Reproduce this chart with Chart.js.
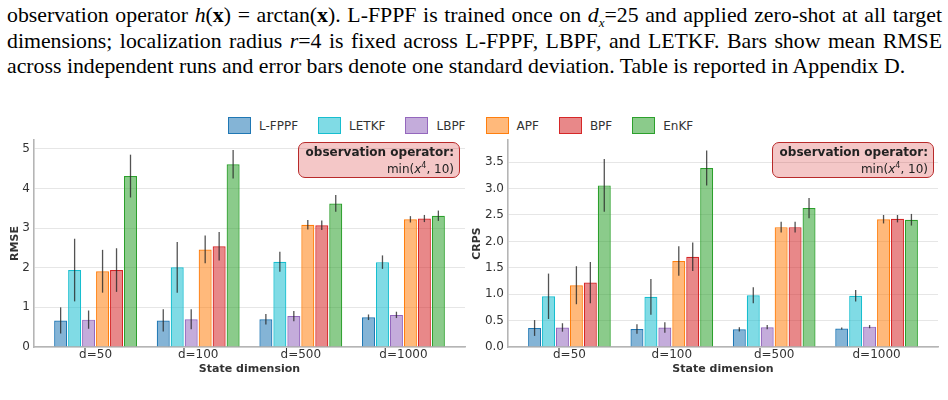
<!DOCTYPE html>
<html>
<head>
<meta charset="utf-8">
<script src="https://cdn.jsdelivr.net/npm/chart.js@4.4.1/dist/chart.umd.min.js"></script>
<style>
  body { margin: 0; width: 948px; height: 400px; background: #fff; position: relative; overflow: hidden; font-family: "DejaVu Sans", sans-serif; }
  .cap { position: absolute; left: 7px; width: 935px; font-family: "Liberation Serif", "Times New Roman", serif; font-size: 21.8px; line-height: 25.5px; color: #000; white-space: nowrap; }
  .cap.just { text-align: justify; text-align-last: justify; white-space: normal; }
  .cap b.m { font-weight: bold; font-style: normal; }
  .legend { position: absolute; left: 228px; top: 117px; display: flex; align-items: center; font-size: 12px; color: #333; }
  .legend .item { display: flex; align-items: center; margin-right: 20px; }
  .legend .box { width: 21px; height: 15px; border: 1.2px solid; margin-right: 8px; }
  .note { position: absolute; top: 142px; width: 150px; height: 30px; padding: 3px 5px 1px 5px; border: 1.2px solid #b82a2a; border-radius: 7px; background: rgba(214, 39, 40, 0.26); text-align: right; font-size: 12px; line-height: 13px; color: #222; }
  .note b { display: block; }
  canvas { position: absolute; }
</style>
</head>
<body>
<div class="cap just" style="top:3px">observation operator <i>h</i>(<b class="m">x</b>) = arctan(<b class="m">x</b>). L-FPPF is trained once on <i>d<sub style="font-size:13px">x</sub></i>=25 and applied zero-shot at all target</div>
<div class="cap just" style="top:29px">dimensions; localization radius <i>r</i>=4 is fixed across L-FPPF, LBPF, and LETKF. Bars show mean RMSE</div>
<div class="cap" style="top:54px">across independent runs and error bars denote one standard deviation. Table is reported in Appendix D.</div>

<div class="legend" id="legend"></div>

<canvas id="rmseChart" width="470" height="241" style="left:0;top:136px"></canvas>
<canvas id="crpsChart" width="478" height="241" style="left:470px;top:136px"></canvas>

<div class="note" style="left:298px"><b>observation operator:</b>min(<i>x</i><sup style="font-size:8px">4</sup>, 10)</div>
<div class="note" style="left:772px"><b>observation operator:</b>min(<i>x</i><sup style="font-size:8px">4</sup>, 10)</div>

<script>
const dims = ["d=50", "d=100", "d=500", "d=1000"];
const methods = ["L-FPPF", "LETKF", "LBPF", "APF", "BPF", "EnKF"];
const edgeColors = ["#1f77b4", "#17becf", "#9467bd", "#ff7f0e", "#d62728", "#2ca02c"];

// RMSE: mean and std, one value per dimension
const rmseLFPPF = [0.67, 0.67, 0.70, 0.75], rmseLFPPFsd = [0.33, 0.28, 0.13, 0.07];
const rmseLETKF = [1.94, 2.01, 2.15, 2.14], rmseLETKFsd = [0.79, 0.64, 0.25, 0.17];
const rmseLBPF  = [0.69, 0.70, 0.78, 0.81], rmseLBPFsd  = [0.23, 0.25, 0.13, 0.08];
const rmseAPF   = [1.91, 2.46, 3.08, 3.22], rmseAPFsd   = [0.54, 0.35, 0.12, 0.08];
const rmseBPF   = [1.94, 2.54, 3.07, 3.24], rmseBPFsd   = [0.55, 0.36, 0.12, 0.09];
const rmseEnKF  = [4.31, 4.61, 3.62, 3.31], rmseEnKFsd  = [0.54, 0.36, 0.21, 0.13];

// CRPS: mean and std
const crpsLFPPF = [0.36, 0.34, 0.335, 0.35], crpsLFPPFsd = [0.15, 0.09, 0.04, 0.02];
const crpsLETKF = [0.96, 0.95, 0.98, 0.97],  crpsLETKFsd = [0.43, 0.34, 0.15, 0.11];
const crpsLBPF  = [0.37, 0.37, 0.375, 0.385], crpsLBPFsd = [0.08, 0.10, 0.04, 0.03];
const crpsAPF   = [1.17, 1.63, 2.27, 2.42],  crpsAPFsd   = [0.36, 0.28, 0.10, 0.08];
const crpsBPF   = [1.22, 1.71, 2.27, 2.43],  crpsBPFsd   = [0.39, 0.27, 0.10, 0.07];
const crpsEnKF  = [3.06, 3.39, 2.63, 2.41],  crpsEnKFsd  = [0.50, 0.33, 0.19, 0.11];

const rmseMeans = [rmseLFPPF, rmseLETKF, rmseLBPF, rmseAPF, rmseBPF, rmseEnKF];
const rmseSds = [rmseLFPPFsd, rmseLETKFsd, rmseLBPFsd, rmseAPFsd, rmseBPFsd, rmseEnKFsd];
const crpsMeans = [crpsLFPPF, crpsLETKF, crpsLBPF, crpsAPF, crpsBPF, crpsEnKF];
const crpsSds = [crpsLFPPFsd, crpsLETKFsd, crpsLBPFsd, crpsAPFsd, crpsBPFsd, crpsEnKFsd];

function fill(hex, a) {
    const n = parseInt(hex.slice(1), 16);
    return `rgba(${n >> 16},${(n >> 8) & 255},${n & 255},${a})`;
}

// legend (shared by both panels)
const legend = document.getElementById("legend");
methods.forEach((m, i) => {
    const item = document.createElement("div");
    item.className = "item";
    item.innerHTML = `<div class="box" style="background:${fill(edgeColors[i], 0.55)};border-color:${edgeColors[i]}"></div>${m}`;
    legend.appendChild(item);
});

// draws the std error bars on top of each bar
const errorBars = {
    id: "errorBars",
    afterDatasetsDraw(chart) {
        const ctx = chart.ctx;
        const y = chart.scales.y;
        ctx.save();
        ctx.strokeStyle = "rgba(40,40,40,0.8)";
        ctx.lineWidth = 1.3;
        chart.data.datasets.forEach((ds, di) => {
            chart.getDatasetMeta(di).data.forEach((bar, i) => {
                const v = ds.data[i].y, sd = ds.sd[i];
                ctx.beginPath();
                ctx.moveTo(bar.x, y.getPixelForValue(v - sd));
                ctx.lineTo(bar.x, y.getPixelForValue(v + sd));
                ctx.stroke();
            });
        });
        ctx.restore();
    }
};

function makeChart(id, means, sds, yTitle, yMax, yStep, yWidth, titlePad, padRight, fmt) {
    const ctx = document.getElementById(id).getContext("2d");
    new Chart(ctx, {
        type: "bar",
        data: {
            datasets: methods.map((m, k) => ({
                label: m,
                data: means[k].map((v, i) => ({ x: i, y: v })),
                sd: sds[k],
                backgroundColor: fill(edgeColors[k], 0.55),
                borderColor: edgeColors[k],
                borderWidth: 1.2,
                categoryPercentage: 0.817,
                barPercentage: 0.93,
            })),
        },
        plugins: [errorBars],
        options: {
            responsive: false,
            animation: false,
            layout: { padding: { top: 4, right: padRight, bottom: 0, left: 0 } },
            plugins: { legend: { display: false }, tooltip: { enabled: false } },
            scales: {
                x: {
                    type: "linear",
                    offset: false,
                    min: -0.6,
                    max: 3.6,
                    afterBuildTicks: (axis) => { axis.ticks = dims.map((d, i) => ({ value: i })); },
                    afterFit: (axis) => { axis.height = 30; axis.paddingLeft = 0; axis.paddingRight = 0; },
                    ticks: {
                        callback: (v) => dims[v],
                        font: { family: "DejaVu Sans", size: 12 },
                        color: "#333",
                        padding: 1,
                        maxRotation: 0,
                    },
                    grid: { display: false, drawTicks: false },
                    border: { display: true, color: "#b5b5b5", width: 1.6 },
                    title: {
                        display: true,
                        text: "State dimension",
                        font: { family: "DejaVu Sans", size: 11, weight: "bold" },
                        color: "#333",
                        padding: { top: 0, bottom: 1.5 },
                    },
                },
                y: {
                    min: 0,
                    max: yMax,
                    afterFit: (axis) => { axis.width = yWidth; axis.paddingTop = 0; axis.paddingBottom = 0; },
                    ticks: {
                        stepSize: yStep,
                        includeBounds: false,
                        callback: fmt,
                        font: { family: "DejaVu Sans", size: 12 },
                        color: "#333",
                        padding: 4,
                    },
                    grid: { color: "#e6e6e6", lineWidth: 1, drawTicks: false },
                    border: { display: true, color: "#b5b5b5", width: 1.6 },
                    title: {
                        display: true,
                        text: yTitle,
                        font: { family: "DejaVu Sans", size: 11, weight: "bold" },
                        color: "#333",
                        padding: { top: titlePad, bottom: 0 },
                    },
                },
            },
        },
    });
}

makeChart("rmseChart", rmseMeans, rmseSds, "RMSE", 5.22, 1, 34, 9, 5, (v) => v);
makeChart("crpsChart", crpsMeans, crpsSds, "CRPS", 3.92, 0.5, 38, 0.5, 10, (v) => v.toFixed(1));
</script>
</body>
</html>
